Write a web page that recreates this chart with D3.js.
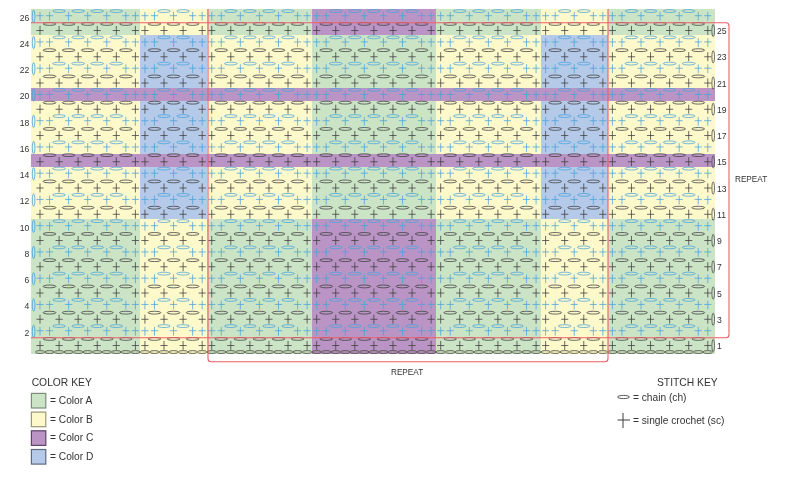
<!DOCTYPE html>
<html><head><meta charset="utf-8">
<script src="https://cdn.jsdelivr.net/npm/d3@7/dist/d3.min.js"></script>
<style>
html,body{margin:0;padding:0;background:#fff}
svg{display:block;filter:blur(0.35px)}
text{font-family:"Liberation Sans",Arial,sans-serif;fill:#333}
</style></head><body><svg id="c" width="800" height="483"></svg>
<script>
// chart content
const sectionStitches = [11, 7, 11, 13, 11, 7, 11];
const colorKeys = ["A", "B", "C", "D"];
const colorLabels = ["= Color A", "= Color B", "= Color C", "= Color D"];
const colorValues = ["#cbe4c6", "#fef9cb", "#b994c4", "#b5c9e9"];
const keyEdges = ["#7d8c7b", "#9a9878", "#5e4468", "#5f6a80"];
const bandA = ["A", "B", "A", "C", "A", "B", "A"];
const bandB = ["B", "D", "B", "A", "B", "D", "B"];
const bandC = ["C", "C", "C", "C", "C", "C", "C"];
const rowBands = [
  [26, 25, bandA], [24, 21, bandB], [20, 20, bandC], [19, 16, bandB],
  [15, 15, bandC], [14, 11, bandB], [10, 1, bandA]
];
const rowNumbers = d3.range(26, 0, -1);
const stitchKeyLabels = ["= chain (ch)", "= single crochet (sc)"];
const titles = ["COLOR KEY", "STITCH KEY", "REPEAT"];

// scales
const x = d3.scaleLinear().domain([0, 70]).range([40, 707.8]);
const y = d3.scaleLinear().domain([26, 2]).range([15.7, 330.7]);
const edgeX = k => k <= -0.5 ? 31 : k >= 70.5 ? 715 : x(k);
const colorOf = d3.scaleOrdinal().domain(colorKeys).range(colorValues);
const BLUE = "#4aa3da", DARK = "#3d3d3d";
const svg = d3.select("#c");

// section extents
let start = 0;
const sections = sectionStitches.map(n => { const s = {from: start, to: start + n - 1}; start += n; return s; });

// colour bands
const bg = svg.append("g").attr("shape-rendering", "crispEdges");
rowBands.forEach(([hi, lo, cols]) => {
  const top2 = hi === 26 ? 9 : y(hi + 1) + 6.56;
  const bot = lo === 1 ? 354 : y(lo) + 6.56;
  bg.selectAll(null).data(sections).enter().append("rect")
    .attr("x", s => edgeX(s.from - 0.5))
    .attr("width", s => edgeX(s.to + 0.5) - edgeX(s.from - 0.5))
    .attr("y", top2).attr("height", bot - top2)
    .attr("fill", (s, i) => colorOf(cols[i]));
});

// stitches
const st = svg.append("g").attr("fill", "none").attr("stroke-width", .85);
function plus(px, py, color, up, down) {
  st.append("path").attr("stroke", color).attr("stroke-opacity", .9)
    .attr("d", `M${px - 3.6},${py}H${px + 3.6}M${px},${py - up}V${py + down}`);
}
function chain(px, py, color) {
  st.append("ellipse").attr("cx", px).attr("cy", py).attr("rx", 6.4).attr("ry", 1.4)
    .attr("stroke", color).attr("stroke-opacity", .9);
}
rowNumbers.forEach(r => {
  const even = r % 2 === 0;
  const color = even ? BLUE : DARK;
  const py = y(r) + (even ? 0 : 1.7);
  const oy = py - (even ? 4.6 : 6.6);
  sections.forEach(s => {
    d3.range(s.from, s.to + 1).forEach(k => {
      const i = k - s.from;
      const last = s.to - s.from;
      if (even) {
        if (i < 2 || i > last - 2 || i % 2 === 1) plus(x(k), py, color, 3.8, 5);
        else chain(x(k), oy, color);
      } else {
        if (i % 2 === 0) plus(x(k), py, color, 4.6, 4.4);
        else chain(x(k), oy, color);
      }
    });
  });
  // turning chains
  st.append("ellipse").attr("cx", even ? 33.6 : 713.2).attr("cy", even ? py + 0.6 : py)
    .attr("rx", 1.3).attr("ry", 6.2).attr("stroke", even ? BLUE : "#555");
});
// foundation chain
d3.range(0, 71).forEach(k => {
  st.append("ellipse").attr("cx", x(k)).attr("cy", y(1) + 8.2).attr("rx", 4.7).attr("ry", 1.4)
    .attr("stroke", "#4a4a3c");
});

// repeat brackets
const RED = "#ef5d68";
const red = svg.append("g").attr("fill", "none").attr("stroke", RED).attr("stroke-width", 1.1);
red.append("path").attr("d", "M31,22.7H726a3,3 0 0 1 3,3V334.7a3,3 0 0 1 -3,3H31");
red.append("path").attr("d", "M208,9V358.7a3,3 0 0 0 3,3H605a3,3 0 0 0 3,-3V9");

// row numbers
const lab = svg.append("g").attr("font-size", 8.6);
lab.selectAll(null).data(rowNumbers.filter(r => r % 2 === 0)).enter().append("text")
  .attr("x", 29.3).attr("y", r => y(r) + 4.9).attr("text-anchor", "end").text(r => r);
lab.selectAll(null).data(rowNumbers.filter(r => r % 2 === 1)).enter().append("text")
  .attr("x", 717).attr("y", r => y(r) + 5.4).text(r => r);

// repeat labels
svg.append("text").attr("x", 735).attr("y", 182).attr("font-size", 8.2).text(titles[2]);
svg.append("text").attr("x", 391).attr("y", 375).attr("font-size", 8.2).text(titles[2]);

// colour key
svg.append("text").attr("x", 31.7).attr("y", 386).attr("font-size", 10.3).text(titles[0]);
const key = d3.scaleLinear().domain([0, 3]).range([393.4, 449.5]);
svg.selectAll(null).data(colorKeys).enter().append("rect")
  .attr("x", 31.4).attr("y", (d, i) => key(i)).attr("width", 14.4).attr("height", 14.6)
  .attr("fill", (d, i) => colorValues[i]).attr("stroke", (d, i) => keyEdges[i]).attr("stroke-width", 1.2);
svg.selectAll(null).data(colorLabels).enter().append("text")
  .attr("x", 50).attr("y", (d, i) => key(i) + 10.5).attr("font-size", 10.2).text(d => d);

// stitch key
svg.append("text").attr("x", 657).attr("y", 386).attr("font-size", 10.3).text(titles[1]);
svg.append("ellipse").attr("cx", 623.5).attr("cy", 397).attr("rx", 6).attr("ry", 1.6)
  .attr("fill", "none").attr("stroke", "#555").attr("stroke-width", 1);
svg.append("text").attr("x", 633).attr("y", 400.5).attr("font-size", 10.2).text(stitchKeyLabels[0]);
svg.append("path").attr("d", "M617.5,420H630M623,413V428").attr("fill", "none").attr("stroke", "#3d3d3d").attr("stroke-width", 1);
svg.append("text").attr("x", 633).attr("y", 423.5).attr("font-size", 10.2).text(stitchKeyLabels[1]);
</script></body></html>
